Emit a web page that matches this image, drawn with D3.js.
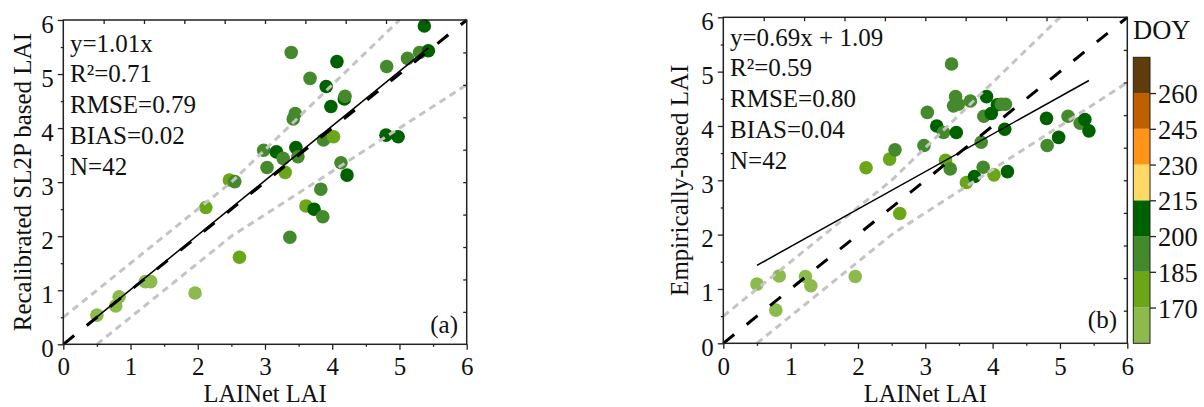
<!DOCTYPE html>
<html>
<head>
<meta charset="utf-8">
<script src="https://cdn.jsdelivr.net/npm/d3@7"></script>
<style>
  body { margin: 0; background: #fff; }
  svg { display: block; }
  text { font-family: "Liberation Serif", "Times New Roman", serif; }
</style>
</head>
<body>
<svg id="chart" width="1204" height="407"></svg>
<script>
// LAINet LAI (shared x of both panels)
var laiNet = [0.50, 0.78, 0.83, 1.22, 1.30, 1.96, 2.12, 2.47, 2.55, 2.62,
  2.98, 3.03, 3.17, 3.27, 3.30, 3.37, 3.39, 3.42, 3.45, 3.46,
  3.49, 3.61, 3.67, 3.73, 3.83, 3.86, 3.87, 3.91, 3.98, 4.02,
  4.07, 4.13, 4.18, 4.19, 4.22, 4.80, 4.81, 4.98, 5.12, 5.30,
  5.37, 5.43];
// panel (a) recalibrated SL2P LAI
var laiSL2P = [0.54, 0.71, 0.88, 1.16, 1.16, 0.95, 2.53, 3.04, 3.01, 1.61,
  3.59, 3.27, 3.56, 3.44, 3.18, 1.98, 5.40, 4.17, 4.27, 3.64,
  3.47, 2.56, 4.92, 2.50, 2.87, 2.36, 3.78, 4.77, 4.40, 3.84,
  5.23, 3.36, 4.54, 4.59, 3.13, 3.87, 5.14, 3.84, 5.29, 5.40,
  5.89, 5.43];
// panel (b) empirically-based LAI
var laiEmp = [1.09, 0.61, 1.24, 1.23, 1.06, 1.23, 3.23, 3.39, 3.56, 2.39,
  3.64, 4.25, 4.00, 3.88, 3.37, 3.21, 5.14, 4.37, 4.54, 3.88,
  4.40, 2.96, 4.46, 3.07, 3.70, 3.24, 4.18, 4.54, 4.23, 3.10,
  4.39, 4.40, 3.94, 4.40, 3.16, 4.14, 3.64, 3.79, 4.18, 4.05,
  4.12, 3.91];
// day of year of each sample
var doy = [165, 165, 165, 165, 165, 165, 178, 178, 192, 178,
  192, 192, 207, 192, 178, 192, 192, 192, 192, 207,
  192, 178, 192, 207, 192, 192, 192, 207, 207, 178,
  207, 192, 207, 192, 207, 207, 192, 207, 192, 192,
  207, 207];

var doyBreaks = [170, 185, 200, 215, 230, 245, 260];
var doyColors = ["#8cba4c", "#6aa618", "#448a2c", "#006100",
  "#ffd966", "#ff9419", "#c05f00", "#5f3c0b"];
var doyRange = [155, 275];

var statsA = ["y=1.01x", "R\u00b2=0.71", "RMSE=0.79", "BIAS=0.02", "N=42"];
var statsB = ["y=0.69x + 1.09", "R\u00b2=0.59", "RMSE=0.80", "BIAS=0.04", "N=42"];

var fitA = { slope: 1.01, intercept: 0, from: 0.35, to: 5.43 };
var fitB = { slope: 0.69, intercept: 1.09, from: 0.5, to: 5.43 };

// +/- max(0.5, 20%) envelope
var bandUpper = [[0, 0.5], [2.5, 3], [5, 6]];
var bandLower = [[0.5, 0], [2.5, 2], [6, 4.8]];
var oneToOne = [[0, 0], [6, 6]];

var majorTicks = [0, 1, 2, 3, 4, 5, 6];
var minorTicks = [0.5, 1.5, 2.5, 3.5, 4.5, 5.5];
var mirrorTicks = [0.6, 1.2, 1.8, 2.4, 3.0, 3.6, 4.2, 4.8, 5.4];

var FONT = "Liberation Serif";
var svg = d3.select("#chart");
var color = d3.scaleThreshold().domain(doyBreaks).range(doyColors);

function drawPanel(cfg) {
  var x = d3.scaleLinear().domain([0, 6]).range(cfg.xr);
  var y = d3.scaleLinear().domain([0, 6]).range(cfg.yr);
  var g = svg.append("g");
  var line = d3.line().x(function (d) { return x(d[0]); }).y(function (d) { return y(d[1]); });

  // points
  g.selectAll("circle")
    .data(laiNet)
    .enter()
    .append("circle")
    .attr("cx", function (d) { return x(d); })
    .attr("cy", function (d, i) { return y(cfg.ys[i]); })
    .attr("r", 6.8)
    .attr("fill", function (d, i) { return color(doy[i]); });

  // envelope lines
  [bandUpper, bandLower].forEach(function (b) {
    g.append("path").attr("d", line(b))
      .attr("fill", "none").attr("stroke", "#c4c4c4")
      .attr("stroke-width", 3).attr("stroke-dasharray", "7,5");
  });
  // 1:1 line
  g.append("path").attr("d", line(oneToOne))
    .attr("fill", "none").attr("stroke", "#000")
    .attr("stroke-width", 3).attr("stroke-dasharray", "14,16");
  // fit line
  var f = cfg.fit;
  g.append("path")
    .attr("d", line([[f.from, f.slope * f.from + f.intercept], [f.to, f.slope * f.to + f.intercept]]))
    .attr("fill", "none").attr("stroke", "#000").attr("stroke-width", 1.5);

  // axes
  var h = cfg.yr[0], top = cfg.yr[1], l = cfg.xr[0], r = cfg.xr[1];
  var bx = g.append("g").attr("transform", "translate(0," + h + ")")
    .call(d3.axisBottom(x).tickValues(majorTicks).tickSize(5.5).tickFormat(d3.format("d")));
  bx.selectAll("text").attr("y", 375.5 - h).attr("dy", 0);
  g.append("g").attr("transform", "translate(0," + h + ")")
    .call(d3.axisBottom(x).tickValues(minorTicks).tickSize(2.5).tickFormat(""));
  var ly = g.append("g").attr("transform", "translate(" + l + ",0)")
    .call(d3.axisLeft(y).tickValues(majorTicks).tickSize(5.5).tickFormat(d3.format("d")));
  ly.selectAll("text").attr("x", -9.5).attr("dy", "0.48em");
  g.append("g").attr("transform", "translate(" + l + ",0)")
    .call(d3.axisLeft(y).tickValues(minorTicks).tickSize(2.5).tickFormat(""));
  g.append("g").attr("transform", "translate(0," + top + ")")
    .call(d3.axisTop(x).tickValues(mirrorTicks).tickSize(-4).tickFormat(""));
  g.append("g").attr("transform", "translate(" + r + ",0)")
    .call(d3.axisRight(y).tickValues(mirrorTicks).tickSize(-3.5).tickFormat(""));
  g.selectAll(".domain").remove();
  g.selectAll(".tick line").attr("stroke", "#222").attr("stroke-width", 1.3);
  g.selectAll(".tick text").attr("font-family", FONT)
    .attr("font-size", 25).attr("fill", "#111");

  g.append("rect").attr("x", l).attr("y", top)
    .attr("width", r - l).attr("height", h - top)
    .attr("fill", "none").attr("stroke", "#222").attr("stroke-width", 1.5);

  // titles
  g.append("text").attr("x", (l + r) / 2).attr("y", 401.5)
    .attr("text-anchor", "middle").attr("font-family", FONT)
    .attr("font-size", 24.5).attr("fill", "#111")
    .text("LAINet LAI");
  g.append("text")
    .attr("transform", "translate(" + cfg.ytx + "," + (top + h) / 2 + ") rotate(-90)")
    .attr("text-anchor", "middle").attr("font-family", FONT)
    .attr("font-size", 25).attr("fill", "#111")
    .text(cfg.ytitle);

  // stats
  g.selectAll("text.stat")
    .data(cfg.stats)
    .enter()
    .append("text")
    .attr("class", "stat")
    .attr("x", cfg.sx)
    .attr("y", function (d, i) { return cfg.sy + i * cfg.sdy; })
    .attr("font-family", FONT)
    .attr("font-size", 25).attr("fill", "#111")
    .text(function (d) { return d; });

  g.append("text").attr("x", cfg.tagx).attr("y", cfg.tagy)
    .attr("text-anchor", "end").attr("font-family", FONT)
    .attr("font-size", 25).attr("fill", "#111")
    .text(cfg.tag);
}

drawPanel({
  xr: [63.3, 466.7], yr: [344.3, 20], ys: laiSL2P, fit: fitA,
  ytitle: "Recalibrated SL2P based LAI", ytx: 30.5,
  stats: statsA, sx: 70, sy: 51.5, sdy: 30.8,
  tag: "(a)", tagx: 458, tagy: 333
});
drawPanel({
  xr: [723.3, 1127.3], yr: [343.3, 17.3], ys: laiEmp, fit: fitB,
  ytitle: "Empirically-based LAI", ytx: 688,
  stats: statsB, sx: 730, sy: 45.5, sdy: 30.8,
  tag: "(b)", tagx: 1117, tagy: 328
});

// colorbar
var cb = svg.append("g");
var cy = d3.scaleLinear().domain(doyRange).range([343.3, 57.3]);
var cbx = 1133.3, cbw = 16.7;
var edges = [doyRange[0]].concat(doyBreaks).concat([doyRange[1]]);
cb.selectAll("rect.bin")
  .data(doyColors)
  .enter()
  .append("rect")
  .attr("class", "bin")
  .attr("x", cbx)
  .attr("y", function (d, i) { return cy(edges[i + 1]); })
  .attr("width", cbw)
  .attr("height", function (d, i) { return cy(edges[i]) - cy(edges[i + 1]); })
  .attr("fill", function (d) { return d; });
cb.append("rect").attr("x", cbx).attr("y", cy(doyRange[1]))
  .attr("width", cbw).attr("height", cy(doyRange[0]) - cy(doyRange[1]))
  .attr("fill", "none").attr("stroke", "#222").attr("stroke-width", 1);
var ca = cb.append("g").attr("transform", "translate(" + (cbx + cbw) + ",0)")
  .call(d3.axisRight(cy).tickValues(doyBreaks).tickSize(6).tickPadding(2));
ca.select(".domain").remove();
ca.selectAll(".tick line").attr("stroke", "#222").attr("stroke-width", 1.3);
ca.selectAll(".tick text").attr("font-family", FONT)
  .attr("font-size", 26.5).attr("fill", "#111").attr("dy", "0.36em");
cb.append("text").attr("x", 1133).attr("y", 39.3).attr("font-family", FONT)
  .attr("font-size", 26.5).attr("fill", "#111").text("DOY");
</script>
</body>
</html>
